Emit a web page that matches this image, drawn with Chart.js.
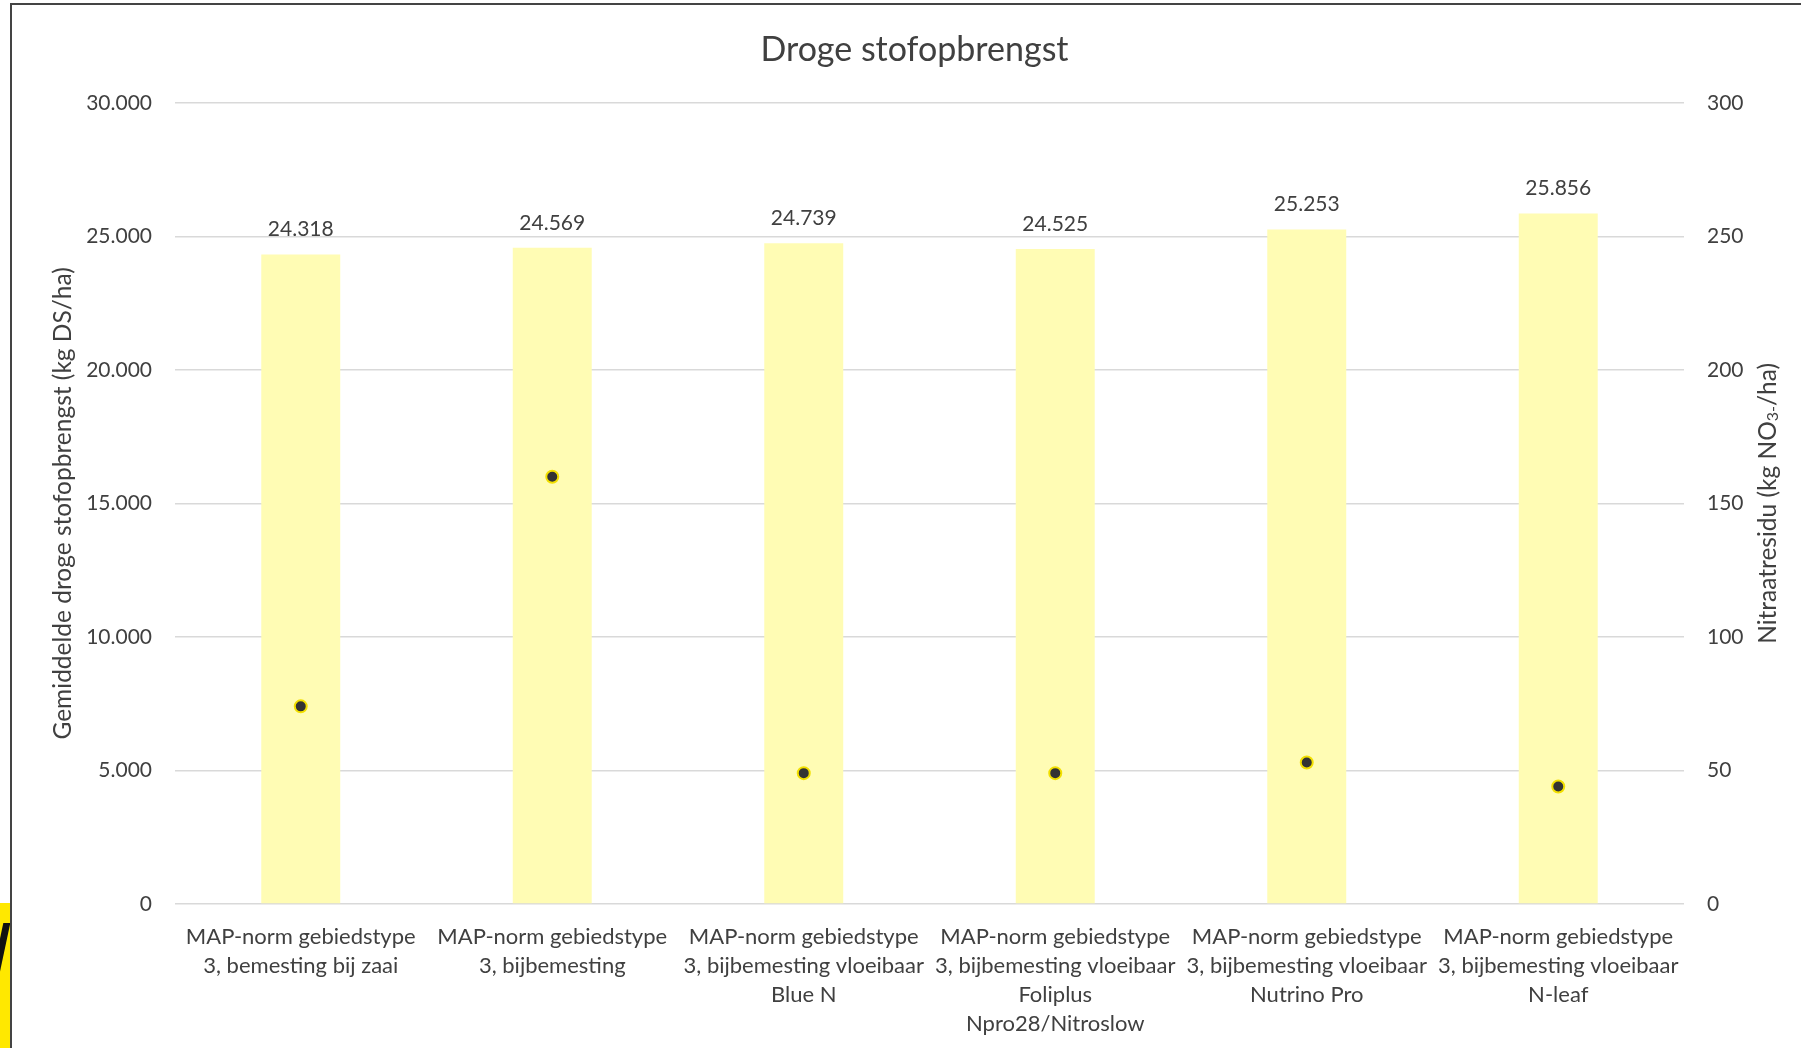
<!DOCTYPE html>
<html>
<head>
<meta charset="utf-8">
<script src="https://cdn.jsdelivr.net/npm/chart.js@4.4.1/dist/chart.umd.min.js"></script>
<style>
  html, body { margin: 0; padding: 0; background: #fff; }
  #wrap { position: relative; width: 1801px; height: 1048px; }
  #frame { position: absolute; left: 10px; top: 3px; right: 0; bottom: 0;
           border-left: 2px solid #444; border-top: 2px solid #444; pointer-events: none; }
  #tab { position: absolute; left: 0; top: 903px; width: 10px; height: 145px; background: #ffe800; overflow: hidden; }
  #tab::after { content: ''; position: absolute; left: -2px; top: 20px; width: 7px; height: 50px;
                background: #111; transform: skewX(-12deg); }
</style>
</head>
<body>
<div id="wrap">
  <canvas id="chart"></canvas>
  <div id="frame"></div>
  <div id="tab"></div>
</div>
<script>
// categories (multi-line labels as in the original)
const categories = [
    ['MAP-norm gebiedstype', '3, bemesting bij zaai'],
    ['MAP-norm gebiedstype', '3, bijbemesting'],
    ['MAP-norm gebiedstype', '3, bijbemesting vloeibaar', 'Blue N'],
    ['MAP-norm gebiedstype', '3, bijbemesting vloeibaar', 'Foliplus', 'Npro28/Nitroslow'],
    ['MAP-norm gebiedstype', '3, bijbemesting vloeibaar', 'Nutrino Pro'],
    ['MAP-norm gebiedstype', '3, bijbemesting vloeibaar', 'N-leaf']
];

// average dry matter yield (kg DS/ha), left axis
const drogeStof = [24318, 24569, 24739, 24525, 25253, 25856];

// nitrate residue (kg NO3-/ha), right axis
const nitraat = [74, 160, 49, 49, 53, 44];

const FONT = 'Lato, "Noto Sans", "DejaVu Sans", sans-serif';
const TEXT = '#404040';

// 24318 -> "24.318"
function dutchNumber(v) {
    return String(Math.round(v)).replace(/\B(?=(\d{3})+(?!\d))/g, '.');
}

// draw values above the bars
const barValues = {
    id: 'barValues',
    afterDatasetsDraw(chart) {
        const ctx = chart.ctx;
        const meta = chart.getDatasetMeta(0);
        ctx.save();
        ctx.font = '21px ' + FONT;
        ctx.fillStyle = TEXT;
        ctx.textAlign = 'center';
        ctx.textBaseline = 'middle';
        meta.data.forEach((bar, i) => {
            ctx.fillText(dutchNumber(drogeStof[i]), bar.x, bar.y - 25);
        });
        ctx.restore();
    }
};

// right axis title, read bottom-to-top, with subscript "3-"
const rightTitle = {
    id: 'rightTitle',
    afterDraw(chart) {
        const ctx = chart.ctx;
        const area = chart.chartArea;
        const parts = [
            { t: 'Nitraatresidu (kg NO', size: 24.5, dy: 0 },
            { t: '3-', size: 16, dy: 5 },
            { t: '/ha)', size: 24.5, dy: 0 }
        ];
        ctx.save();
        ctx.fillStyle = TEXT;
        ctx.textBaseline = 'middle';
        let total = 0;
        parts.forEach(p => { ctx.font = p.size + 'px ' + FONT; p.w = ctx.measureText(p.t).width; total += p.w; });
        ctx.translate(1768, (area.top + area.bottom) / 2);
        ctx.rotate(-Math.PI / 2);
        let x = -total / 2;
        parts.forEach(p => {
            ctx.font = p.size + 'px ' + FONT;
            ctx.fillText(p.t, x, p.dy);
            x += p.w;
        });
        ctx.restore();
    }
};

const ctx = document.getElementById('chart').getContext('2d');
const chart = new Chart(ctx, {
    type: 'bar',
    data: {
        labels: categories,
        datasets: [{
            label: 'Droge stofopbrengst',
            data: drogeStof,
            backgroundColor: 'rgb(255, 252, 180)',
            barPercentage: 0.314,
            categoryPercentage: 1,
            yAxisID: 'y',
            order: 2
        }, {
            type: 'line',
            label: 'Nitraatresidu',
            data: nitraat,
            showLine: false,
            pointRadius: 6,
            pointBorderWidth: 2,
            pointBackgroundColor: '#333333',
            pointBorderColor: '#f2df00',
            yAxisID: 'y2',
            order: 1
        }]
    },
    options: {
        responsive: true,
        maintainAspectRatio: false,
        animation: false,
        layout: { padding: { left: 28, right: 0, top: 0, bottom: 0 } },
        plugins: {
            legend: { display: false },
            tooltip: { enabled: false },
            title: {
                display: true,
                text: 'Droge stofopbrengst',
                color: TEXT,
                font: { family: FONT, size: 34, weight: 'normal', lineHeight: 1.2 },
                padding: { top: 30, bottom: 32 }
            }
        },
        scales: {
            x: {
                grid: { display: false, drawTicks: false },
                border: { display: false },
                ticks: {
                    color: TEXT,
                    font: { family: FONT, size: 22, lineHeight: 1.32 },
                    padding: 18,
                    maxRotation: 0,
                    autoSkip: false
                },
                afterFit(scale) { scale.height = 144; }
            },
            y: {
                position: 'left',
                min: 0,
                max: 30000,
                grid: { color: '#d9d9d9', lineWidth: 1.5, drawTicks: false },
                border: { display: false },
                ticks: {
                    stepSize: 5000,
                    color: TEXT,
                    font: { family: FONT, size: 21 },
                    padding: 23,
                    callback: (v) => dutchNumber(v)
                },
                title: {
                    display: true,
                    text: 'Gemiddelde droge stofopbrengst (kg DS/ha)',
                    color: TEXT,
                    font: { family: FONT, size: 24.5, lineHeight: 1.2 },
                    padding: { top: 20, bottom: 0 }
                },
                afterFit(scale) { scale.width = 147; }
            },
            y2: {
                position: 'right',
                min: 0,
                max: 300,
                grid: { drawOnChartArea: false, drawTicks: false },
                border: { display: false },
                ticks: {
                    stepSize: 50,
                    color: TEXT,
                    font: { family: FONT, size: 21 },
                    padding: 23
                },
                afterFit(scale) { scale.width = 117; }
            }
        }
    },
    plugins: [barValues, rightTitle]
});
</script>
</body>
</html>
